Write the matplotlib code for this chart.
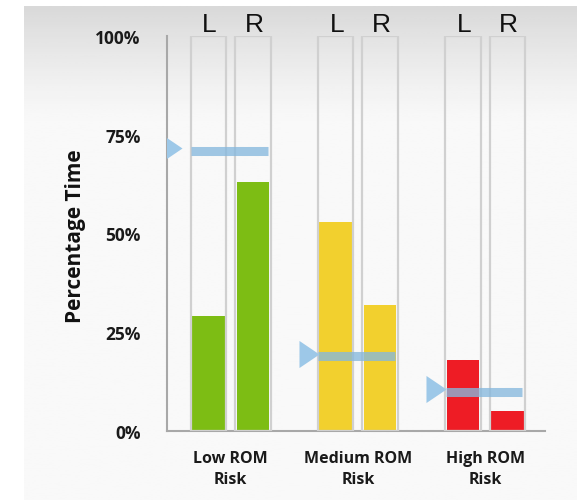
import matplotlib
matplotlib.use("Agg")
import matplotlib.pyplot as plt
import numpy as np

# data
groups = ["Low ROM\nRisk", "Medium ROM\nRisk", "High ROM\nRisk"]
sides = ["L", "R"]
left_vals = [29, 53, 18]
right_vals = [63, 32, 5]
targets = [71, 19, 10]
bar_colors = ["#7dbd14", "#f2d02e", "#ee1c25"]
yticks = [0, 25, 50, 75, 100]
ytick_labels = ["0%", "25%", "50%", "75%", "100%"]

W, H = 577, 502
fig = plt.figure(figsize=(W / 100, H / 100), dpi=100)
fig.patch.set_facecolor("white")

# grey gradient panel behind the chart
bg = fig.add_axes([24 / W, 1 / H, 1 - 24 / W, (502 - 8) / H])
bg.axis("off")
rows = np.linspace(0, 1, 200)
shade = 0.975 - 0.125 * np.clip(1 - rows / 0.24, 0, 1) ** 1.3
bg.imshow(shade[:, None], cmap="gray", vmin=0, vmax=1, aspect="auto",
          extent=[0, 1, 0, 1], origin="upper")

ax = fig.add_axes([167 / W, 1 - 432 / H, (545 - 167) / W, (432 - 37) / H])
ax.set_facecolor("none")
ax.set_xlim(-0.5, 2.47)
ax.set_ylim(0, 100)

x = np.arange(len(groups))
off = 0.175
box_w = 0.28
bar_w = 0.255

# outline boxes (0-100%) for each side
for xc in np.concatenate([x - off, x + off]):
    ax.bar(xc, 100, width=box_w, facecolor="none", edgecolor="#d0d0d0",
           linewidth=1.6, zorder=3)

ax.bar(x - off, left_vals, width=bar_w, color=bar_colors, zorder=2)
ax.bar(x + off, right_vals, width=bar_w, color=bar_colors, zorder=2)

# target lines with triangle markers
tri_off = [-0.46, -0.385, -0.39]
tgt_color = "#86b8de"
for i, t in enumerate(targets):
    ax.hlines(t, x[i] - 0.31, x[i] + 0.29, color=tgt_color, alpha=0.78,
              linewidth=6.5, capstyle="butt", zorder=4)
    ax.plot(x[i] + tri_off[i], t + 0.6,
            marker=[(-0.74, -1), (0.74, 0), (-0.74, 1)], markersize=19.5,
            color="#9dc8e8", markeredgewidth=0, zorder=4)

# L / R labels above boxes
for i in range(len(groups)):
    for s, dx in zip(sides, (-off, off)):
        ax.text(x[i] + dx + 0.01, 100, s, ha="center", va="bottom",
                fontsize=19, family="Liberation Sans", color="#111111",
                transform=ax.transData)

for sp in ["top", "right"]:
    ax.spines[sp].set_visible(False)
ax.spines["left"].set_color("#a8a8a8")
ax.spines["left"].set_linewidth(1.5)
ax.spines["bottom"].set_color("#a8a8a8")
ax.spines["bottom"].set_linewidth(1.5)

font = "Open Sans"
ax.set_yticks(yticks)
ax.set_yticklabels(ytick_labels, fontsize=12.5, fontweight="bold",
                   family=font, color="#1a1a1a")
ax.tick_params(axis="y", length=0, pad=19)
ax.set_xticks(x)
ax.set_xticklabels(groups, fontsize=11.5, fontweight="bold", family=font,
                   color="#1a1a1a", linespacing=1.4)
ax.tick_params(axis="x", length=0, pad=14)

fig.text(75 / W, 1 - 236 / H, "Percentage Time", rotation=90, ha="center",
         va="center", fontsize=15, fontweight="bold", family=font,
         color="#111111")

fig.savefig("out.png", dpi=100)
